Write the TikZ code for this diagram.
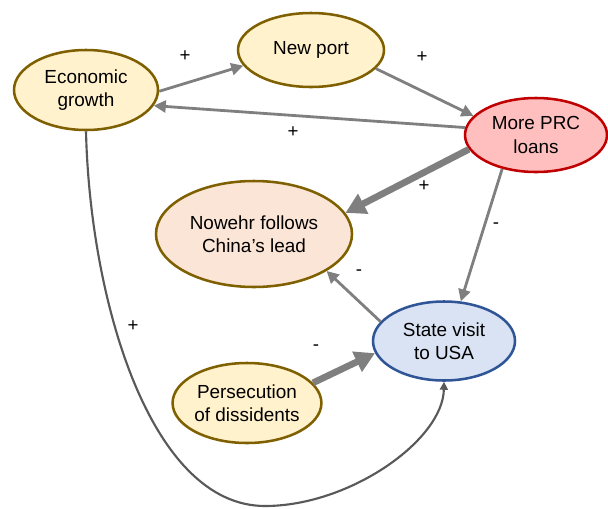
\documentclass[tikz,border=0pt]{standalone}
\usepackage{fontspec}
\setmainfont{Liberation Sans}
\usetikzlibrary{arrows.meta,shapes.geometric}

\definecolor{yellowfill}{HTML}{FFF2CC}
\definecolor{goldline}{HTML}{7F6000}
\definecolor{redfill}{HTML}{FFBFBF}
\definecolor{redline}{HTML}{C00000}
\definecolor{peachfill}{HTML}{FBE5D6}
\definecolor{bluefill}{HTML}{DAE3F3}
\definecolor{blueline}{HTML}{2F5597}
\definecolor{linkgray}{HTML}{7F7F7F}
\definecolor{curvegray}{HTML}{595959}

\tikzset{
  factor/.style={ellipse, draw=goldline, fill=yellowfill, line width=1.9pt,
    inner sep=0pt, align=center, font=\fontsize{14.2}{17.4}\selectfont},
  link/.style={draw=linkgray, line width=2.1pt,
    -{Triangle[length=9pt,width=9pt]}},
  heavylink/.style={draw=linkgray, line width=5pt,
    -{Triangle[length=15pt,width=16pt]}},
  sign/.style={font=\fontsize{14}{16}\selectfont, inner sep=0pt}
}

\begin{document}
\begin{tikzpicture}[x=0.75pt,y=-0.75pt]
  \useasboundingbox (0,0) rectangle (608,508);

  % causal factors
  \node[factor, minimum width=108pt, minimum height=60pt] (econ) at (86,90) {Economic\\growth};
  \node[factor, minimum width=109.5pt, minimum height=55.5pt] (port) at (311,50) {New port};
  \node[factor, draw=redline, fill=redfill, minimum width=106.5pt, minimum height=55.5pt] (loans) at (536,135) {More PRC\\loans};
  \node[factor, fill=peachfill, minimum width=147pt, minimum height=79.5pt] (lead) at (254,234) {Nowehr follows\\China’s lead};
  \node[factor, draw=blueline, fill=bluefill, minimum width=106.5pt, minimum height=59.25pt] (visit) at (444,341) {State visit\\to USA};
  \node[factor, minimum width=107pt, minimum height=60pt] (persec) at (247,403) {Persecution\\of dissidents};

  % influences
  \draw[link] (econ.-1) -- (port.193);
  \draw[link] (port.-16.6) -- (loans.163.6);
  \draw[link] (loans.174.4) -- (econ.-13);
  \draw[heavylink] (loans.192.8) -- (lead.13.6);
  \draw[link] (loans.225.8) -- (visit.67.3);
  \draw[link] (visit.163) -- (lead.-27.5);
  \draw[heavylink] (persec.17.6) -- (visit.190.4);
  \draw[draw=curvegray, line width=1.6pt, -{Triangle[length=6pt,width=6pt]}]
    (econ.south) .. controls (90,300) and (150,506) .. (265,506)
    .. controls (350,506) and (443,440) .. (visit.south);

  % polarity signs
  \node[sign] (s1) at (185,56) {+};
  \node[sign] (s2) at (422,57) {+};
  \node[sign] (s3) at (293,132) {+};
  \node[sign] (s4) at (424,186) {+};
  \node[sign] (s5) at (496,226) {-};
  \node[sign] (s6) at (359,273) {-};
  \node[sign] (s7) at (316,348) {-};
  \node[sign] (s8) at (133,326) {+};
\end{tikzpicture}
\end{document}
